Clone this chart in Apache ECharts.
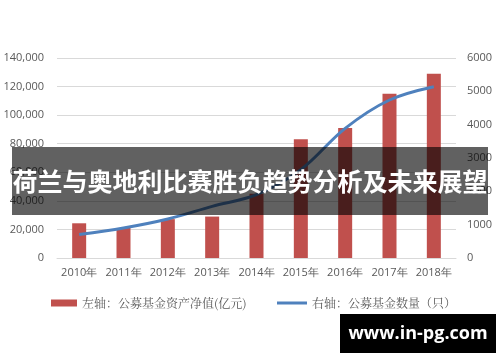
<!DOCTYPE html>
<html><head><meta charset="utf-8">
<script src="https://cdn.jsdelivr.net/npm/echarts@6/dist/echarts.min.js"></script>
<style>html,body{margin:0;padding:0;background:#fff}#c{width:500px;height:362px}</style>
</head><body><div id="c"></div>
<script>
var categories = ['2010年','2011年','2012年','2013年','2014年','2015年','2016年','2017年','2018年'];
var assetValues = [24300, 21000, 27200, 29000, 45000, 83200, 91000, 115000, 129000];
var fundCounts = [705, 900, 1170, 1550, 1900, 2650, 3890, 4740, 5140];
var leftTicks = [0, 20000, 40000, 60000, 80000, 100000, 120000, 140000];
var rightTicks = [0, 1000, 2000, 3000, 4000, 5000, 6000];
var barName = '左轴：公募基金资产净值(亿元)';
var lineName = '右轴：公募基金数量（只）';
var titleText = '荷兰与奥地利比赛胜负趋势分析及未来展望';
var watermark = 'www.in-pg.com';

var chart = echarts.init(document.getElementById('c'));
var labelStyle = {color:'#595959', fontSize:11, fontFamily:'Open Sans, Liberation Sans, sans-serif'};
var legendText = {color:'#595959', fontSize:12, fontFamily:'Noto Serif CJK SC, Noto Sans CJK SC, serif'};
chart.setOption({
  animation:false,
  grid:{left:57, right:44, top:58, bottom:104},
  legend:[
    {left:46, top:292, itemWidth:26, itemHeight:7, textStyle:legendText,
     data:[{name:barName, icon:'rect'}]},
    {left:272, top:292, itemWidth:30, itemHeight:3, textStyle:legendText,
     data:[{name:lineName, icon:'rect'}]}
  ],
  xAxis:{
    type:'category', data:categories,
    axisLine:{lineStyle:{color:'#d9d9d9'}}, axisTick:{show:false},
    axisLabel:Object.assign({margin:9, interval:0}, labelStyle)
  },
  yAxis:[
    {type:'value', min:leftTicks[0], max:leftTicks[leftTicks.length-1], interval:20000,
     axisLine:{show:false}, axisTick:{show:false},
     splitLine:{lineStyle:{color:'#d9d9d9'}},
     axisLabel:Object.assign({margin:13, formatter:function(v){return v.toLocaleString('en-US');}}, labelStyle)},
    {type:'value', min:rightTicks[0], max:rightTicks[rightTicks.length-1], interval:1000,
     axisLine:{show:false}, axisTick:{show:false}, splitLine:{show:false},
     axisLabel:Object.assign({margin:11, formatter:function(v){return String(v);}}, labelStyle)}
  ],
  series:[
    {name:barName, type:'bar', data:assetValues, barWidth:14, itemStyle:{color:'#C0504D'}},
    {name:lineName, type:'line', yAxisIndex:1, data:fundCounts, smooth:0.35, symbol:'none',
     lineStyle:{color:'#4F81BD', width:3}, itemStyle:{color:'#4F81BD'}}
  ],
  graphic:[
    {type:'rect', shape:{x:12, y:147, width:476, height:68}, style:{fill:'rgba(0,0,0,0.62)'}, z:100},
    {type:'text', x:250, y:181, z:101, style:{text:titleText, fill:'#fff', font:'bold 25px "Noto Sans CJK SC", sans-serif', align:'center', verticalAlign:'middle'}},
    {type:'rect', shape:{x:340, y:314, width:156, height:39}, style:{fill:'#000'}, z:100},
    {type:'text', x:418, y:334, z:101, style:{text:watermark, fill:'#fff', font:'bold 18px "Open Sans", "DejaVu Sans", sans-serif', align:'center', verticalAlign:'middle'}}
  ]
});
</script></body></html>
